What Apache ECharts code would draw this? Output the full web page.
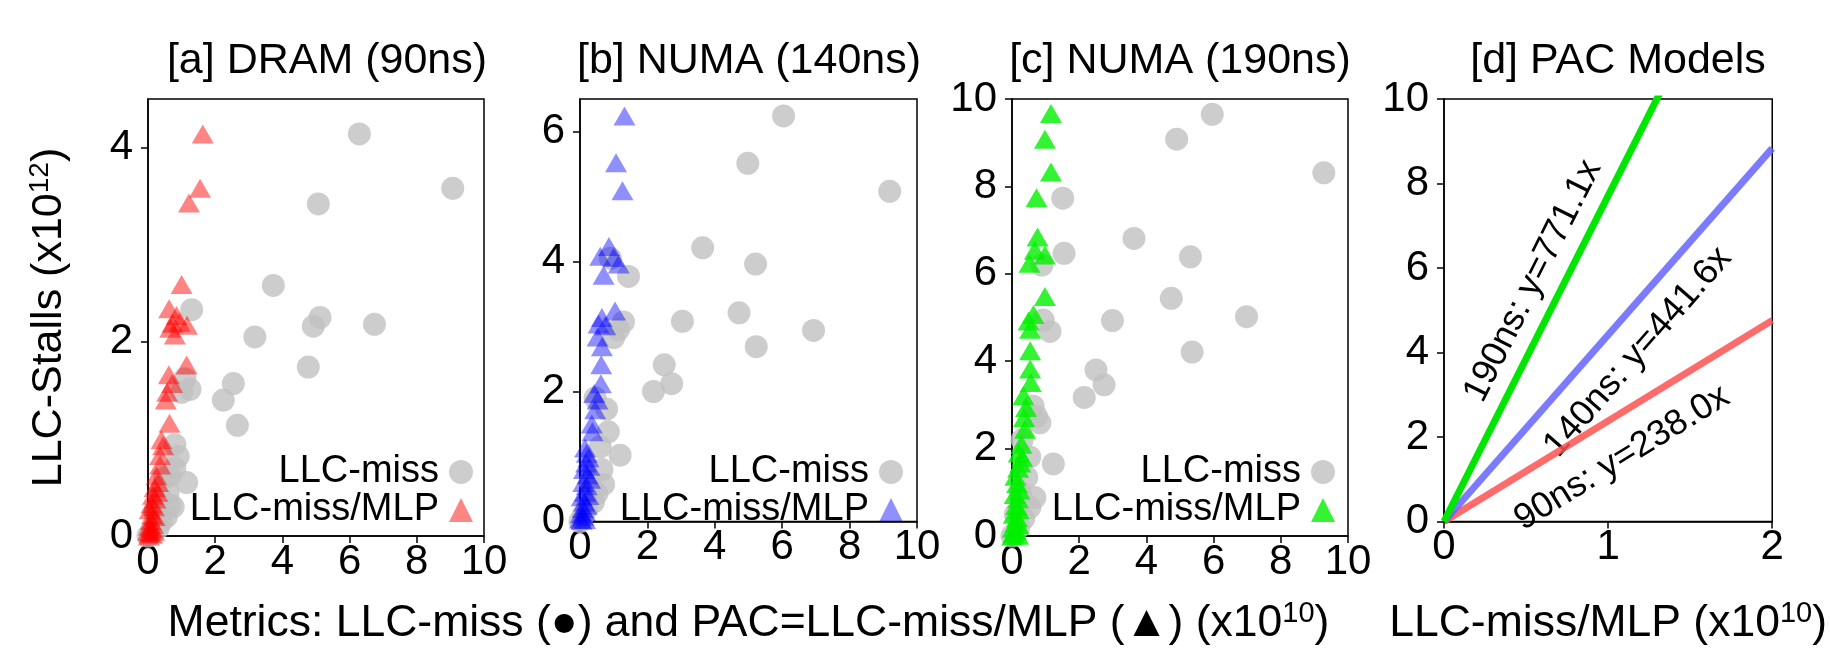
<!DOCTYPE html>
<html>
<head>
<meta charset="utf-8">
<script src="https://cdn.jsdelivr.net/npm/echarts@6/dist/echarts.min.js"></script>
<style>
  html, body { margin: 0; padding: 0; background: #fff; }
  #chart { width: 1830px; height: 651px; }
</style>
</head>
<body>
<div id="chart"></div>
<script>
// panel titles
const panelTitles = ['[a] DRAM (90ns)', '[b] NUMA (140ns)', '[c] NUMA (190ns)', '[d] PAC Models']

// [a] DRAM: LLC-miss (x1e10, x1e12) and LLC-miss/MLP
const dramMiss = [[6.29,4.14],[9.07,3.58],[5.07,3.42],[3.73,2.58],[1.30,2.33],[5.12,2.25],[4.92,2.16],[6.74,2.18],[3.18,2.05],[4.77,1.74],[2.54,1.57],[2.24,1.40],[2.66,1.14],[1.25,1.51],[1.0,1.48],[1.1,1.62],[1.15,0.55],[0.8,0.94],[0.8,0.7],[0.9,0.82],[0.65,0.32],[0.55,0.2],[0.75,0.3],[0.6,0.45],[0.5,0.6],[0.4,0.15],[0.3,0.08],[0.2,0.25],[0.1,0.05],[0.0,0.0],[0.35,0.4],[0.65,0.62]]
const dramPac = [[1.63,4.14],[1.55,3.58],[1.22,3.43],[1.0,2.59],[0.63,2.34],[0.85,2.27],[0.73,2.19],[0.94,2.2],[1.16,2.17],[0.66,2.14],[0.8,2.07],[1.15,1.76],[0.62,1.66],[0.72,1.57],[0.57,1.48],[0.53,1.40],[0.64,1.16],[0.4,0.99],[0.45,0.93],[0.36,0.83],[0.36,0.73],[0.25,0.62],[0.3,0.55],[0.2,0.5],[0.28,0.45],[0.15,0.42],[0.22,0.38],[0.1,0.33],[0.18,0.3],[0.05,0.27],[0.12,0.22],[0.2,0.2],[0.08,0.16],[0.15,0.12],[0.03,0.1],[0.1,0.08],[0.0,0.05],[0.05,0.03],[0.12,0.02],[0.02,0.0],[0.18,0.05]]

// [b] NUMA 140ns
const numa140Miss = [[6.04,6.24],[4.98,5.51],[9.19,5.08],[3.64,4.21],[5.21,3.96],[1.44,3.77],[4.72,3.21],[3.04,3.08],[6.93,2.94],[5.23,2.69],[2.5,2.41],[2.72,2.12],[2.18,2.0],[1.19,1.02],[1.29,3.07],[1.14,2.95],[1.0,2.83],[0.79,1.73],[0.84,1.38],[0.7,0.57],[0.6,1.15],[0.5,0.43],[0.65,0.8],[0.4,0.3],[0.3,0.6],[0.2,0.2],[0.1,0.1],[0.0,0.0],[0.45,1.9],[0.9,4.05]]
const numa140Pac = [[1.32,6.24],[1.07,5.52],[1.26,5.09],[0.86,4.23],[0.6,4.08],[1.0,4.06],[1.15,3.96],[0.7,3.79],[1.04,3.24],[0.65,3.14],[0.55,3.04],[0.75,3.01],[0.52,2.84],[0.65,2.69],[0.63,2.41],[0.62,2.12],[0.42,1.97],[0.52,1.87],[0.45,1.72],[0.35,1.5],[0.37,1.38],[0.15,1.13],[0.2,1.05],[0.25,0.98],[0.18,0.9],[0.28,0.85],[0.12,0.8],[0.22,0.72],[0.3,0.65],[0.1,0.6],[0.2,0.55],[0.15,0.45],[0.25,0.4],[0.05,0.38],[0.12,0.3],[0.2,0.25],[0.08,0.2],[0.15,0.15],[0.02,0.12],[0.1,0.08],[0.0,0.04],[0.05,0.02],[0.15,0.03]]

// [c] NUMA 190ns
const numa190Miss = [[5.96,9.65],[4.9,9.08],[9.28,8.31],[1.51,7.73],[3.63,6.81],[5.31,6.39],[1.55,6.47],[0.89,6.2],[4.74,5.44],[2.99,4.93],[6.98,5.02],[1.13,4.68],[0.93,4.94],[5.36,4.21],[2.5,3.8],[2.74,3.46],[2.15,3.17],[1.23,1.65],[0.73,2.74],[0.83,2.59],[0.63,2.97],[0.53,1.81],[0.68,0.88],[0.53,0.65],[0.44,1.34],[0.35,0.4],[0.25,1.0],[0.2,0.2],[0.1,0.5],[0.0,0.0],[0.3,2.2]]
const numa190Pac = [[1.16,9.67],[0.98,9.08],[1.16,8.33],[0.73,7.74],[0.76,6.84],[0.68,6.54],[0.98,6.43],[0.52,6.24],[0.98,5.48],[0.64,5.07],[0.49,4.92],[0.54,4.73],[0.54,4.24],[0.54,3.82],[0.56,3.51],[0.34,3.21],[0.42,2.94],[0.36,2.71],[0.39,2.44],[0.2,1.9],[0.25,1.67],[0.1,1.37],[0.18,1.55],[0.15,1.2],[0.22,1.05],[0.08,0.95],[0.18,0.85],[0.12,0.7],[0.2,0.6],[0.05,0.5],[0.15,0.42],[0.1,0.3],[0.2,0.25],[0.02,0.18],[0.12,0.12],[0.05,0.06],[0.0,0.0],[0.18,0.02],[0.3,1.8],[0.28,2.1]]

// [d] PAC model lines, endpoints at x = 0 and 2
const modelX = [0, 2]
const model90 = [0, 4.76]
const model140 = [0, 8.83]
const model190 = [0, 15.42]
const modelLabels = ['90ns: y=238.0x', '140ns: y=441.6x', '190ns: y=771.1x']

const FONT = 'Liberation Sans, Arial, Helvetica, sans-serif'

const chart = echarts.init(document.getElementById('chart'), null, { renderer: 'canvas' })

const grids = [
  { left: 148, top: 99, width: 336, height: 437 },
  { left: 580, top: 99, width: 337, height: 437 },
  { left: 1012, top: 99, width: 336, height: 437 },
  { left: 1444, top: 99, width: 337, height: 437 }
]
const titleCenters = [322, 744, 1175, 1613]

const axisCommon = {
  axisLine: { show: true, lineStyle: { color: '#000', width: 1.5 } },
  axisTick: { show: true, inside: false, length: 7, lineStyle: { color: '#000', width: 1.5 } },
  splitLine: { show: false },
  axisLabel: { color: '#000', fontSize: 42, fontFamily: FONT }
}

const nameRich = {
  n: { fontSize: 44.5, fontFamily: FONT, color: '#000', lineHeight: 48 },
  s: { fontSize: 29, fontFamily: FONT, color: '#000', verticalAlign: 'top', lineHeight: 48 }
}

function xAxis(i, max, step, name) {
  const ticks = []
  for (let v = 0; v <= max; v += step) ticks.push(v)
  return {
    ...axisCommon,
    type: 'value', gridIndex: i, min: 0, max: max,
    axisTick: { ...axisCommon.axisTick, customValues: ticks },
    axisLabel: { ...axisCommon.axisLabel, margin: 5, customValues: ticks },
    name: name || '',
    nameLocation: 'middle',
    nameGap: 78,
    nameTextStyle: { color: '#000', rich: nameRich }
  }
}

function yAxis(i, max, ticks, name) {
  return {
    ...axisCommon,
    type: 'value', gridIndex: i, min: 0, max: max,
    axisTick: { ...axisCommon.axisTick, customValues: ticks },
    axisLabel: { ...axisCommon.axisLabel, margin: 15, customValues: ticks },
    name: name || '',
    nameLocation: 'middle',
    nameRotate: 90,
    nameGap: 76,
    nameTextStyle: {
      color: '#000',
      rich: {
        n: { fontSize: 43, fontFamily: FONT, color: '#000', lineHeight: 46 },
        s: { fontSize: 28, fontFamily: FONT, color: '#000', verticalAlign: 'top', lineHeight: 46 }
      }
    }
  }
}

const GRAY = '#c0c0c0'
const triColors = ['rgba(255,0,0,0.6)', 'rgba(0,0,255,0.55)', 'rgb(0,240,0)']
const missSets = [dramMiss, numa140Miss, numa190Miss]
const pacSets = [dramPac, numa140Pac, numa190Pac]

const series = []
const legends = []
const legendRight = [1352, 922, 490]
const legendText = {}
for (let i = 0; i < 3; i++) {
  const missName = 'miss' + i
  const pacName = 'pac' + i
  legendText[missName] = 'LLC-miss'
  legendText[pacName] = 'LLC-miss/MLP'
  series.push({
    name: missName, type: 'scatter', xAxisIndex: i, yAxisIndex: i,
    symbol: 'circle', symbolSize: 23,
    itemStyle: { color: GRAY },
    data: missSets[i], z: 2
  })
  series.push({
    name: pacName, type: 'scatter', xAxisIndex: i, yAxisIndex: i,
    symbol: 'triangle', symbolSize: [22, 19],
    itemStyle: { color: triColors[i] },
    data: pacSets[i], z: 3
  })
  legends.push({
    data: [missName, pacName],
    orient: 'vertical',
    align: 'right',
    right: legendRight[i],
    top: 448,
    itemGap: 0,
    itemWidth: 24,
    itemHeight: 24,
    formatter: (n) => legendText[n],
    textStyle: { fontSize: 38, fontFamily: FONT, color: '#000', padding: [0, 5, 0, 0] }
  })
}

// PAC model lines
const lineColors = ['rgba(255,80,80,0.85)', 'rgba(100,100,255,0.85)', 'rgb(0,230,0)']
;[model90, model140, model190].forEach((ys, k) => {
  series.push({
    type: 'line', xAxisIndex: 3, yAxisIndex: 3,
    data: modelX.map((x, j) => [x, ys[j]]),
    symbol: 'none', clip: true,
    lineStyle: { color: lineColors[k], width: 7 },
    z: 2
  })
})

const labelStyle = { fontSize: 36, fontFamily: FONT, fill: '#000', align: 'center', verticalAlign: 'middle' }

const option = {
  animation: false,
  backgroundColor: '#fff',
  title: panelTitles.map((t, i) => ({
    text: t,
    left: titleCenters[i],
    top: 35,
    textAlign: 'center',
    textStyle: { fontSize: 43, fontWeight: 'normal', fontFamily: FONT, color: '#000' }
  })),
  grid: grids.map((g) => ({ ...g, show: true, borderColor: '#000', borderWidth: 1.5, backgroundColor: 'transparent' })),
  legend: legends,
  xAxis: [
    xAxis(0, 10, 2),
    xAxis(1, 10, 2, '{n|Metrics: LLC-miss (●) and PAC=LLC-miss/MLP (▲) (x10}{s|10}{n|)}'),
    xAxis(2, 10, 2),
    xAxis(3, 2, 1, '{n|LLC-miss/MLP (x10}{s|10}{n|)}')
  ],
  yAxis: [
    yAxis(0, 4.5, [0, 2, 4], '{n|LLC-Stalls (x10}{s|12}{n|)}'),
    yAxis(1, 6.5, [0, 2, 4, 6]),
    yAxis(2, 10, [0, 2, 4, 6, 8, 10]),
    yAxis(3, 10, [0, 2, 4, 6, 8, 10])
  ],
  graphic: [
    { type: 'text', x: 1622, y: 458, rotation: 31.7 * Math.PI / 180, style: { ...labelStyle, text: modelLabels[0] } },
    { type: 'text', x: 1638, y: 352, rotation: 48.9 * Math.PI / 180, style: { ...labelStyle, text: modelLabels[1] } },
    { type: 'text', x: 1533, y: 281, rotation: 63.4 * Math.PI / 180, style: { ...labelStyle, text: modelLabels[2] } }
  ],
  series: series
}

chart.setOption(option)
</script>
</body>
</html>
